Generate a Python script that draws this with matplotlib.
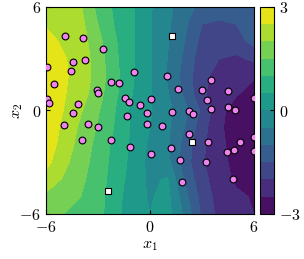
import numpy as np
import matplotlib
matplotlib.use('Agg')
import matplotlib.pyplot as plt

plt.rcParams['mathtext.fontset'] = 'cm'
plt.rcParams['font.family'] = 'serif'
plt.rcParams['font.size'] = 11.5

# surface values (rows: y = 6 ... -6, cols: x = -6 ... 6)
grid_x = np.arange(-6, 7)
grid_y = np.arange(6, -7, -1)
surface = np.array([
    [2.35, 2.25, 2.05, 1.35, 0.9, 0.55, 0.05, -0.35, -0.8, -1.15, -1.2, -1.2, -1.2],
    [2.45, 2.33, 2.15, 1.5, 0.95, 0.55, 0.05, -0.4, -0.9, -1.5, -1.6, -1.5, -1.35],
    [2.7, 2.42, 2.25, 1.65, 1.05, 0.55, 0.05, -0.45, -1.0, -1.65, -1.8, -1.7, -1.35],
    [2.9, 2.55, 2.3, 1.75, 1.1, 0.55, 0.05, -0.5, -1.1, -1.8, -2.0, -2.1, -1.9],
    [2.95, 2.58, 2.3, 1.8, 1.15, 0.55, 0.05, -0.55, -1.2, -1.85, -2.2, -2.4, -2.45],
    [2.95, 2.55, 2.25, 1.7, 1.1, 0.5, 0.05, -0.45, -1.1, -1.9, -2.3, -2.45, -2.7],
    [2.9, 2.5, 2.05, 1.55, 1.0, 0.35, 0.05, -0.35, -0.85, -1.6, -2.35, -2.75, -2.85],
    [2.85, 2.4, 1.9, 1.45, 0.95, 0.4, 0.0, -0.4, -1.0, -1.8, -2.4, -2.8, -2.9],
    [2.8, 2.3, 1.8, 1.35, 0.85, 0.4, -0.1, -0.4, -1.2, -1.9, -2.35, -2.75, -2.9],
    [2.65, 2.15, 1.7, 1.3, 0.8, 0.35, -0.15, -0.35, -1.25, -1.95, -2.3, -2.7, -2.85],
    [2.3, 1.95, 1.6, 1.25, 0.75, 0.3, -0.1, 0.05, -1.05, -1.85, -2.25, -2.6, -2.75],
    [1.9, 1.7, 1.5, 1.2, 0.7, 0.2, -0.05, 0.15, -0.8, -1.7, -2.2, -2.4, -2.55],
    [1.65, 1.5, 1.35, 1.15, 0.7, 0.15, 0.0, 0.2, -0.6, -1.6, -2.15, -2.4, -2.5],
])

# observed points
pts_x = [-4.90, -3.84, -2.68, -5.95, -4.43, -3.76, -4.53, -5.52, -0.90, -2.27,
         -1.81, -3.04, -2.97, -5.95, -5.83, -4.14, -4.43, -1.42, -1.23, -0.59,
         0.09, -0.14, -1.30, -4.94, -3.58, -2.99, -3.89, -2.23, -1.13, -0.18,
         0.09, 0.69, 1.01, 1.65, 1.29, 2.23, 2.48, 2.23, 1.21, 1.73,
         1.88, 3.00, 3.51, 3.28, 3.51, 4.49, 4.49, 4.92, 3.37, 3.24,
         5.19, 4.84, 4.45, 6.00, 6.00, 4.80, 6.00]
pts_y = [4.34, 4.20, 3.58, 2.50, 2.81, 2.91, 2.29, 1.52, 2.21, 1.65,
         1.59, 1.17, 1.00, 0.67, 0.43, 0.36, -0.16, 0.72, 0.49, 0.30,
         0.65, -0.13, -0.34, -0.82, -0.80, -0.94, -1.73, -1.73, -2.14, -0.76,
         -2.50, -0.90, 1.98, 1.27, -0.11, -0.01, -0.20, -1.38, -2.15, -2.89,
         -4.16, 1.19, 1.79, 0.61, 0.11, 1.15, 0.22, 0.01, -1.85, -2.99,
         -1.83, -2.27, -2.43, -1.56, -2.35, -3.99, 0.74]

# new query points
new_x = [1.29, 2.44, -2.41]
new_y = [4.34, -1.85, -4.69]

levels = np.linspace(-3, 3, 13)

fig = plt.figure(figsize=(3.04, 2.59), dpi=100)
ax = fig.add_axes([0.151, 0.174, 0.684, 0.799])
cax = fig.add_axes([0.855, 0.174, 0.046, 0.799])

cs = ax.contourf(grid_x, grid_y, surface, levels=levels, cmap='viridis')
ax.scatter(pts_x, pts_y, s=24, c='violet', edgecolors='black', linewidths=0.8, zorder=3)
ax.scatter(new_x, new_y, s=20, marker='s', c='white', edgecolors='black', linewidths=0.8, zorder=3)

ax.set_xlim(-6, 6)
ax.set_ylim(-6, 6)
ax.set_xticks([-6, 0, 6], [r'$-6$', r'$0$', r'$6$'])
ax.set_yticks([-6, 0, 6], [r'$-6$', r'$0$', r'$6$'])
ax.tick_params(direction='in', length=3)
ax.set_xlabel(r'$x_1$', labelpad=0)
ax.set_ylabel(r'$x_2$', labelpad=-4)

cb = fig.colorbar(cs, cax=cax, ticks=[-3, 0, 3])
cb.ax.set_yticklabels([r'$-3$', r'$0$', r'$3$'])
cb.ax.tick_params(direction='in', length=3)

fig.savefig('out.png', dpi=100)
